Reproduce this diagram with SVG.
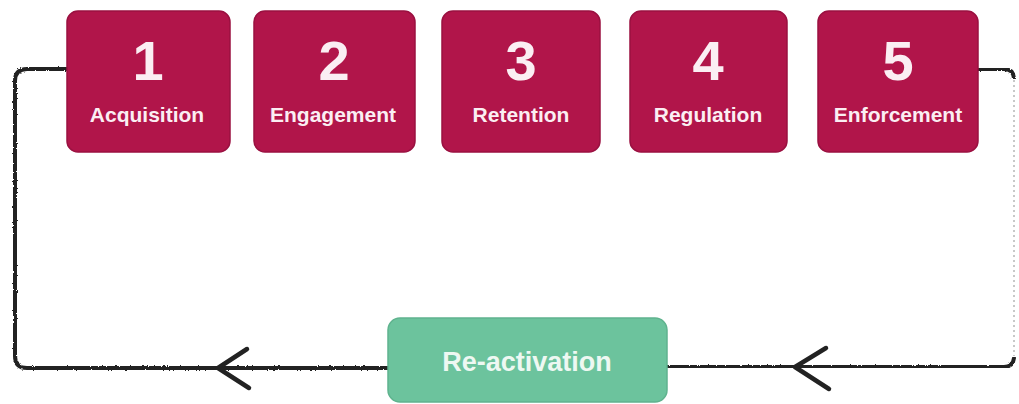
<svg xmlns="http://www.w3.org/2000/svg" width="1019" height="404" viewBox="0 0 1019 404">
  <defs>
    <style>
      .step { fill: #b1154a; stroke: #9a1040; stroke-width: 1.5; }
      .num { font-family: "Liberation Sans", Arial, sans-serif; font-weight: bold; font-size: 56px; fill: #fbeef3; text-anchor: middle; }
      .lbl { font-family: "Liberation Sans", Arial, sans-serif; font-weight: bold; font-size: 21px; fill: #fbeef3; text-anchor: middle; }
      .react { fill: #6cc39d; stroke: #5fb38e; stroke-width: 1.5; }
      .react-lbl { font-family: "Liberation Sans", Arial, sans-serif; font-weight: bold; font-size: 27px; fill: #eef8f2; text-anchor: middle; }
      .wire { fill: none; stroke: #222222; stroke-width: 4; stroke-linecap: round; stroke-linejoin: round; filter: url(#rough); }
      .wire-faint { fill: none; stroke: #c8c8c8; stroke-width: 2; stroke-dasharray: 2 3; }
      .head { fill: none; stroke: #222222; stroke-width: 4.5; stroke-linecap: round; stroke-linejoin: round; }
    </style>
    <!-- slight jitter for a hand-drawn marker line -->
    <filter id="rough" x="-5%" y="-5%" width="110%" height="110%">
      <feTurbulence type="fractalNoise" baseFrequency="0.6" numOctaves="2" seed="3" result="n"/>
      <feDisplacementMap in="SourceGraphic" in2="n" scale="2.5" xChannelSelector="R" yChannelSelector="G"/>
    </filter>
  </defs>

  <rect width="1019" height="404" fill="#ffffff"/>

  <!-- connectors -->
  <g id="connectors">
    <path class="wire" d="M67,69 H27 Q15,69 15,81 V356 Q15,368 27,368 H388"/>
    <path class="wire" d="M230,69 H254"/>
    <path class="wire" d="M415,69 H442"/>
    <path class="wire" d="M600,69 H630"/>
    <path class="wire" d="M787,69 H818"/>
    <path class="wire" d="M978,69 H1004 Q1013,69 1014,78"/>
    <path class="wire-faint" d="M1014,80 V356"/>
    <path class="wire" d="M1014,358 Q1013,367 1004,367 H667"/>
    <polyline class="head" points="247,349 218,368 249,388"/>
    <polyline class="head" points="826,348 795,367 829,389"/>
  </g>

  <g id="step-1">
    <rect class="step" x="67" y="11" width="163" height="141" rx="11"/>
    <text class="num" x="148" y="80">1</text>
    <text class="lbl" x="147" y="122">Acquisition</text>
  </g>
  <g id="step-2">
    <rect class="step" x="254" y="11" width="161" height="141" rx="11"/>
    <text class="num" x="334" y="80">2</text>
    <text class="lbl" x="333" y="122">Engagement</text>
  </g>
  <g id="step-3">
    <rect class="step" x="442" y="11" width="158" height="141" rx="11"/>
    <text class="num" x="521" y="80">3</text>
    <text class="lbl" x="521" y="122">Retention</text>
  </g>
  <g id="step-4">
    <rect class="step" x="630" y="11" width="157" height="141" rx="11"/>
    <text class="num" x="708" y="80">4</text>
    <text class="lbl" x="708" y="122">Regulation</text>
  </g>
  <g id="step-5">
    <rect class="step" x="818" y="11" width="160" height="141" rx="11"/>
    <text class="num" x="898" y="80">5</text>
    <text class="lbl" x="898" y="122">Enforcement</text>
  </g>

  <g id="reactivation">
    <rect class="react" x="388" y="318" width="279" height="84" rx="12"/>
    <text class="react-lbl" x="527" y="371">Re-activation</text>
  </g>
</svg>
